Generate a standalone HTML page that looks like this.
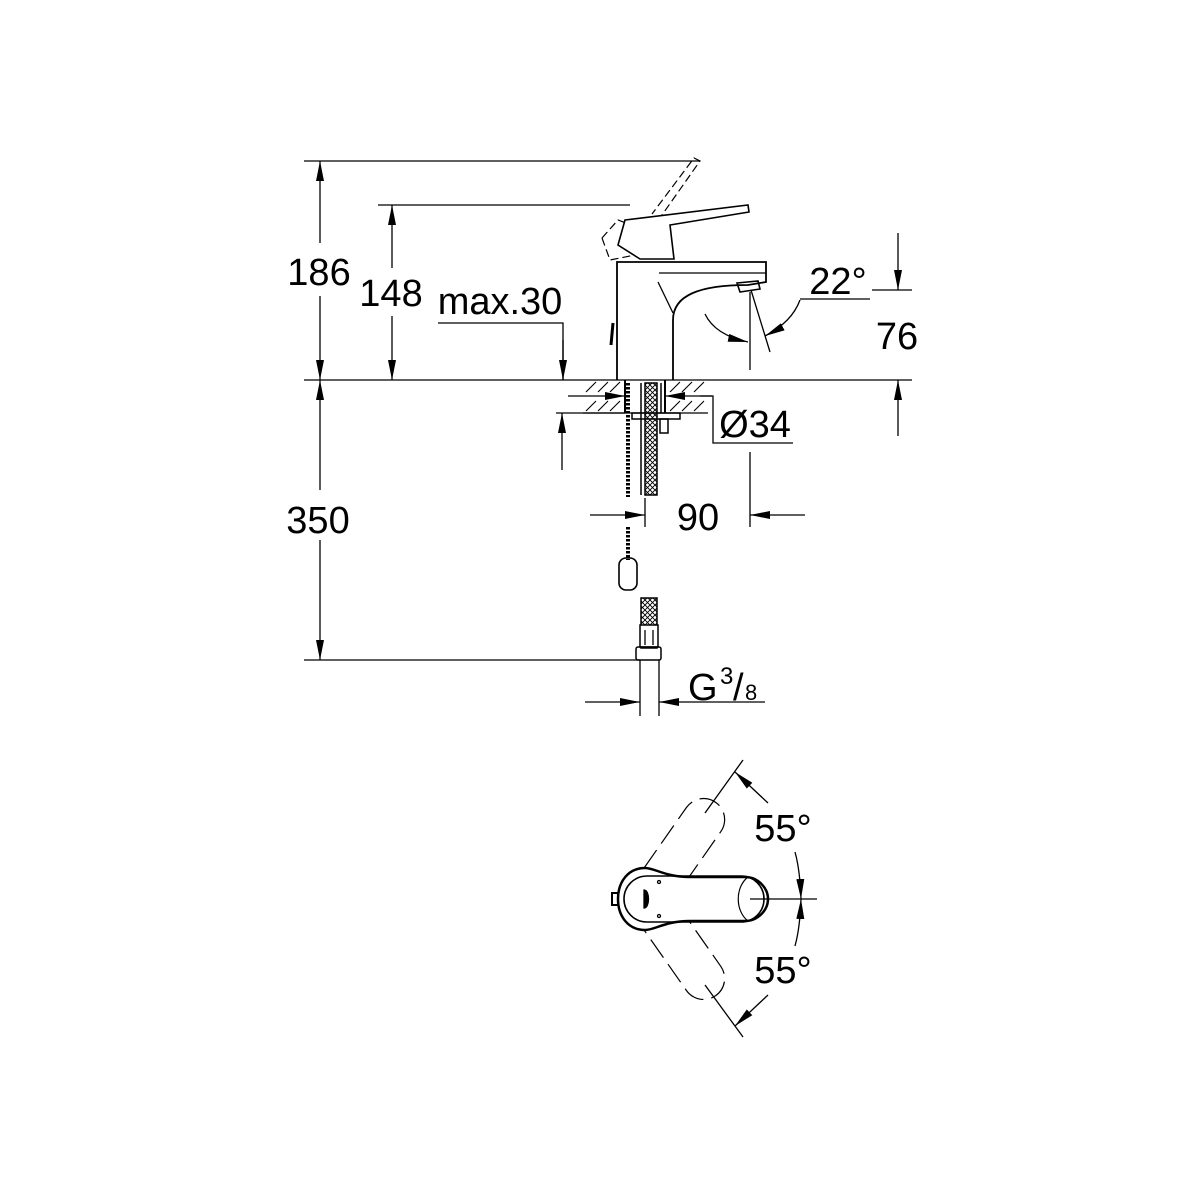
<!DOCTYPE html>
<html><head><meta charset="utf-8"><style>
html,body{margin:0;padding:0;background:#fff;}
svg{display:block;}
text{font-family:"Liberation Sans",sans-serif;fill:#000;}
</style></head><body>
<svg width="1200" height="1200" viewBox="0 0 1200 1200" xmlns="http://www.w3.org/2000/svg">
<defs>
<marker id="a" viewBox="0 0 20 8" refX="20" refY="4" markerWidth="20" markerHeight="8" markerUnits="userSpaceOnUse" orient="auto"><path d="M0,0 L20,4 L0,8 z" fill="#000"/></marker>
<pattern id="hx" width="5" height="5" patternUnits="userSpaceOnUse"><path d="M0,0 L5,5 M5,0 L0,5" stroke="#000" stroke-width="0.9"/></pattern>
</defs>
<g stroke="#000" stroke-width="1.3" fill="none">
<line x1="304" y1="161" x2="700" y2="161"/>
<line x1="378" y1="205" x2="630" y2="205"/>
<line x1="304" y1="380" x2="912" y2="380"/>
<line x1="304" y1="660" x2="640" y2="660"/>
<line x1="320" y1="243" x2="320" y2="161" marker-end="url(#a)"/>
<line x1="320" y1="296" x2="320" y2="380" marker-end="url(#a)"/>
<line x1="392" y1="268" x2="392" y2="205" marker-end="url(#a)"/>
<line x1="392" y1="316" x2="392" y2="380" marker-end="url(#a)"/>
<line x1="320" y1="490" x2="320" y2="380" marker-end="url(#a)"/>
<line x1="320" y1="540" x2="320" y2="660" marker-end="url(#a)"/>
<polyline points="438,323 563,323 563,380" />
<line x1="563" y1="340" x2="563" y2="380" marker-end="url(#a)"/>
<line x1="556" y1="413" x2="708" y2="413"/>
<line x1="562" y1="470" x2="562" y2="413" marker-end="url(#a)"/>
<g stroke-width="1.1">
<path d="M586,392 l10,-10 M598,392 l10,-10 M610,392 l10,-10 M586,411 l10,-10 M598,411 l10,-10 M610,411 l10,-10 M670,392 l10,-10 M682,392 l10,-10 M694,392 l10,-10 M670,411 l10,-10 M682,411 l10,-10 M694,411 l10,-10"/>
</g>
<line x1="583" y1="413" x2="625" y2="413"/>
<line x1="625" y1="380" x2="625" y2="413" stroke-width="2"/>
<line x1="665" y1="380" x2="665" y2="413" stroke-width="2"/>
<line x1="568" y1="396" x2="625" y2="396" marker-end="url(#a)"/>
<line x1="712" y1="396" x2="665" y2="396" marker-end="url(#a)"/>
<polyline points="700,396 713,396 713,443 793,443"/>
<rect x="632" y="413" width="48" height="6" stroke-width="1.5"/>
<rect x="660" y="419" width="8" height="14" stroke-width="1.5"/>
<line x1="641" y1="383" x2="641" y2="495" stroke-width="1.5"/>
<rect x="645" y="383" width="12" height="112" fill="url(#hx)" stroke-width="1.5"/>
<line x1="661" y1="383" x2="661" y2="413" stroke-width="1.5"/>
<line x1="628" y1="383" x2="628" y2="497" stroke-width="4" stroke-dasharray="2.5,1.5"/>
<line x1="628" y1="527" x2="628" y2="560" stroke-width="4" stroke-dasharray="2.5,1.5"/>
<rect x="619" y="558" width="18" height="32" rx="7" stroke-width="1.6"/>
<line x1="590" y1="515" x2="645" y2="515" marker-end="url(#a)"/>
<line x1="645" y1="498" x2="645" y2="527"/>
<line x1="805" y1="515" x2="750" y2="515" marker-end="url(#a)"/>
<line x1="750" y1="452" x2="750" y2="527"/>
<rect x="641" y="598" width="16" height="50" fill="url(#hx)" stroke-width="1.5"/>
<rect x="640" y="625" width="18" height="22" fill="#fff" stroke-width="1.5"/>
<line x1="645" y1="630" x2="645" y2="645"/><line x1="653" y1="630" x2="653" y2="645"/>
<rect x="636" y="647" width="25" height="13" rx="2" stroke-width="1.5"/>
<line x1="640" y1="660" x2="640" y2="716"/>
<line x1="659" y1="660" x2="659" y2="716"/>
<line x1="585" y1="702" x2="640" y2="702" marker-end="url(#a)"/>
<line x1="765" y1="702" x2="659" y2="702" marker-end="url(#a)"/>
<g stroke-dasharray="8,4" stroke-width="1.2">
<path d="M602,238 L618,220 L650,232 L700,161 L694,158 L652,214"/>
<path d="M602,238 L610,260 L660,250 L662,232"/>
</g>
<path d="M625,220 L748,205 L749,212 L670,225 L674,259 L640,259 L618,245 Z" stroke-width="1.6" fill="#fff"/>
<path d="M617,380 L617,262 L766,262 L766,282 L748,285 C700,285 673,295 673,320 L673,380" stroke-width="1.8"/>
<line x1="659" y1="273" x2="766" y2="273"/>
<line x1="658" y1="282" x2="673" y2="313"/>
<path d="M737,283 L758,281 L760,289 L740,292 Z" stroke-width="1.6"/>
<path d="M613,323 L611,345" stroke-width="3"/>
<line x1="750" y1="292" x2="750" y2="370"/>
<line x1="751" y1="290" x2="770" y2="352"/>
<path d="M705,314 Q715,335 748,342" marker-end="url(#a)"/>
<polyline points="870,299 800,299"/>
<path d="M800,300 Q792,322 765,336" marker-end="url(#a)"/>
<line x1="872" y1="290" x2="912" y2="290"/>
<line x1="898" y1="233" x2="898" y2="290" marker-end="url(#a)"/>
<line x1="898" y1="436" x2="898" y2="380" marker-end="url(#a)"/>
<g stroke-dasharray="22,8" stroke-width="1.2">
<g transform="rotate(-55 648 899)"><rect x="650" y="878" width="116" height="42" rx="21"/></g>
<g transform="rotate(55 648 899)"><rect x="650" y="878" width="116" height="42" rx="21"/></g>
</g>
<path d="M690,877 C665,877 655,868 645,868 C628,868 618,882 618,899 C618,916 628,930 645,930 C655,930 665,921 690,921 L745,921 C758,921 768,910 768,899 C768,888 758,877 745,877 Z" fill="#fff" stroke-width="2.5"/>
<rect x="624" y="876" width="140" height="46" rx="23" stroke-width="1.6"/>
<path d="M748,877 C735,887 735,911 748,921" stroke-width="1.2"/>
<path d="M644,890 C650,890 650,908 644,908 Z" fill="#000"/>
<circle cx="659" cy="882" r="1.5"/><circle cx="659" cy="916" r="1.5"/>
<path d="M612,893 L618,893 L618,905 L612,905 Z" stroke-width="2"/>
<line x1="743" y1="760" x2="705" y2="813"/>
<line x1="705" y1="985" x2="743" y2="1037"/>
<line x1="750" y1="899" x2="817" y2="899"/>
<line x1="768" y1="803" x2="735" y2="772" marker-end="url(#a)"/>
<line x1="768" y1="995" x2="735" y2="1026" marker-end="url(#a)"/>
<path d="M795,852 Q800,870 801,899" marker-end="url(#a)"/>
<path d="M795,946 Q800,928 801,899" marker-end="url(#a)"/>
</g>
<g font-size="38">
<text x="319" y="285" text-anchor="middle">186</text>
<text x="391" y="306" text-anchor="middle">148</text>
<text x="500" y="314" text-anchor="middle">max.30</text>
<text x="318" y="533" text-anchor="middle">350</text>
<text x="897" y="349" text-anchor="middle">76</text>
<text x="838" y="294" text-anchor="middle">22°</text>
<text x="755" y="437" text-anchor="middle">Ø34</text>
<text x="698" y="530" text-anchor="middle">90</text>
<text x="688" y="700">G</text>
<text x="783" y="841" text-anchor="middle">55°</text>
<text x="783" y="983" text-anchor="middle">55°</text>
</g>
<text x="720" y="684" font-size="24">3</text>
<text x="733" y="700" font-size="38">/</text>
<text x="745" y="700" font-size="22">8</text>
</svg>
</body></html>
